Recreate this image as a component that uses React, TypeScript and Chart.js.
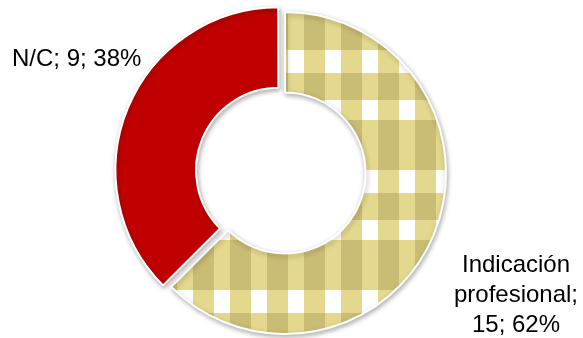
import React, { useEffect, useRef } from "react";
import { Chart, registerables } from "chart.js";
Chart.register(...registerables);

const categories = ["Indicación profesional", "N/C"];
const values = [15, 9];
const percents = [62, 38];
const sliceColors = ["pattern", "#c00000"];
const sliceOffsets = [0, 28];

function makeGingham(): CanvasPattern | string {
  const tile = document.createElement("canvas");
  const w = 37;
  const h = 120;
  tile.width = w;
  tile.height = h;
  const c = tile.getContext("2d");
  if (!c) return "#e2d68a";
  const dark = "#c9bc74";
  const light = "#e3d88d";
  c.fillStyle = dark;
  c.fillRect(0, 0, w, h);
  c.fillStyle = light;
  // light vertical columns
  c.fillRect(29, 0, 8, h);
  c.fillRect(0, 0, 8, h);
  // light horizontal rows
  c.fillRect(0, 50, w, 23);
  c.fillRect(0, 100, w, 22);
  // intersections white
  c.fillStyle = "#ffffff";
  c.fillRect(29, 50, 8, 23);
  c.fillRect(0, 50, 8, 23);
  c.fillRect(29, 100, 8, 22);
  c.fillRect(0, 100, 8, 22);
  const main = document.createElement("canvas").getContext("2d");
  const p = main ? main.createPattern(tile, "repeat") : null;
  return p || light;
}

const shadowPlugin = {
  id: "ringShadow",
  beforeDatasetsDraw(chart: any) {
    const ctx = chart.ctx;
    ctx.save();
    ctx.shadowColor = "rgba(0,0,0,0.3)";
    ctx.shadowBlur = 5;
    ctx.shadowOffsetX = 1;
    ctx.shadowOffsetY = 2;
  },
  afterDatasetsDraw(chart: any) {
    chart.ctx.restore();
  },
};

const labelPlugin = {
  id: "outerLabels",
  afterDraw(chart: any, _args: any, opts: any) {
    const ctx = chart.ctx;
    const data = chart.data.datasets[0].data as number[];
    const labels = chart.data.labels as string[];
    ctx.save();
    ctx.fillStyle = "#000000";
    ctx.font = "24px 'Liberation Sans', Arial, sans-serif";
    ctx.textBaseline = "alphabetic";
    opts.positions.forEach((pos: any, i: number) => {
      const cat = labels[i];
      const val = data[i];
      const pct = percents[i];
      let lines: string[];
      if (pos.wrap) {
        const words = cat.split(" ");
        const last = words.pop();
        lines = [...words, last + ";", `${val}; ${pct}%`];
      } else {
        lines = [`${cat}; ${val}; ${pct}%`];
      }
      ctx.textAlign = pos.align;
      lines.forEach((ln, k) => {
        ctx.fillText(ln, pos.x, pos.y + k * 30);
      });
    });
    ctx.restore();
  },
};

export default function App() {
  const ref = useRef<HTMLCanvasElement | null>(null);
  useEffect(() => {
    if (!ref.current) return;
    const pattern = makeGingham();
    const colors = sliceColors.map((c) => (c === "pattern" ? pattern : c));
    const chart = new Chart(ref.current, {
      type: "doughnut",
      data: {
        labels: categories,
        datasets: [
          {
            data: values,
            backgroundColor: colors as any,
            borderColor: "#ffffff",
            borderWidth: 2,
            offset: sliceOffsets,
          },
        ],
      },
      options: {
        responsive: false,
        maintainAspectRatio: false,
        animation: false,
        radius: 161,
        cutout: "50%",
        layout: { padding: { left: 0, right: 13, top: 8, bottom: 0 } },
        plugins: {
          legend: { display: false },
          tooltip: { enabled: false },
          outerLabels: {
            positions: [
              { x: 516, y: 272, align: "center", wrap: true },
              { x: 12, y: 66, align: "left", wrap: false },
            ],
          },
        } as any,
      } as any,
      plugins: [shadowPlugin, labelPlugin],
    });
    return () => chart.destroy();
  }, []);
  return (
    <div style={{ position: "fixed", left: 0, top: 0, width: 583, height: 338, background: "#fff" }}>
      <canvas ref={ref} width={583} height={338} style={{ width: 583, height: 338, display: "block" }} />
    </div>
  );
}
